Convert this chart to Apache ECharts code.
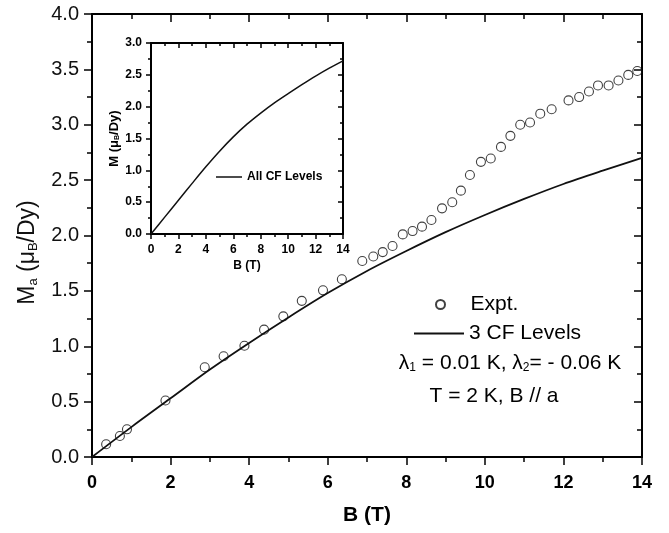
<!DOCTYPE html>
<html>
<head>
<meta charset="utf-8">
<script src="https://cdn.jsdelivr.net/npm/echarts@6/dist/echarts.min.js"></script>
<style>html,body{margin:0;padding:0;background:#fff}#c{width:669px;height:533px}</style>
</head>
<body>
<div id="c"></div>
<script>
// ---- data ----
var exptB = [0.36, 0.71, 0.89, 1.87, 2.87, 3.35, 3.88, 4.38, 4.87, 5.34, 5.88, 6.36, 6.88, 7.16, 7.40, 7.65, 7.91, 8.16, 8.40, 8.64, 8.91, 9.17, 9.39, 9.62, 9.90, 10.15, 10.41, 10.65, 10.90, 11.15, 11.41, 11.70, 12.13, 12.40, 12.65, 12.88, 13.15, 13.40, 13.65, 13.88];
var exptM = [0.115, 0.19, 0.25, 0.51, 0.81, 0.91, 1.005, 1.15, 1.27, 1.41, 1.505, 1.605, 1.77, 1.81, 1.85, 1.905, 2.01, 2.04, 2.08, 2.14, 2.245, 2.30, 2.405, 2.546, 2.665, 2.695, 2.80, 2.90, 3.00, 3.02, 3.10, 3.14, 3.22, 3.25, 3.30, 3.355, 3.355, 3.40, 3.45, 3.485];
var fitB = [0, 1, 2, 3, 4, 5, 6, 7, 8, 9, 10, 11, 12, 13, 14];
var fitM = [0, 0.27, 0.53, 0.79, 1.03, 1.26, 1.48, 1.68, 1.86, 2.03, 2.185, 2.33, 2.465, 2.585, 2.70];
var insetB = [0, 1, 2, 3, 4, 5, 6, 7, 8, 9, 10, 11, 12, 13, 14];
var insetM = [0, 0.265, 0.53, 0.795, 1.055, 1.30, 1.525, 1.725, 1.90, 2.06, 2.205, 2.345, 2.48, 2.605, 2.72];
var mainXTicks = {min: 0, max: 14, interval: 2};
var mainYTicks = {min: 0, max: 4, interval: 0.5};
var insetXTicks = {min: 0, max: 14, interval: 2};
var insetYTicks = {min: 0, max: 3, interval: 0.5};
var names = {expt: 'Expt.', fit: '3 CF Levels', inset: 'All CF Levels'};

var FF = '"Liberation Sans", Arial, Helvetica, sans-serif';
function zip(a, b) { return a.map(function (v, i) { return [v, b[i]]; }); }

function mkAxis(grid, pos, ticks, opts) {
  var inside = (pos === 'top' || pos === 'right');
  return {
    type: 'value', gridIndex: grid, position: pos,
    min: ticks.min, max: ticks.max, interval: ticks.interval,
    axisLine: {show: true, onZero: false, lineStyle: {color: '#000', width: 2}},
    axisTick: {show: true, inside: inside, length: opts.tick, lineStyle: {color: '#000', width: 1.5}},
    minorTick: {show: true, splitNumber: 2, length: opts.minor, lineStyle: {color: '#000', width: 1.5}},
    splitLine: {show: false},
    minorSplitLine: {show: false},
    axisLabel: inside ? {show: false} : opts.label,
    name: inside ? '' : opts.name,
    nameLocation: 'middle',
    nameGap: opts.nameGap,
    nameRotate: opts.nameRotate,
    nameTextStyle: opts.nameStyle
  };
}

var mainXOpts = {tick: 8, minor: 5,
  label: {fontSize: 18, fontWeight: 'bold', fontFamily: FF, color: '#000', margin: 17},
  name: 'B (T)', nameGap: 48,
  nameStyle: {fontSize: 21, fontWeight: 'bold', fontFamily: FF, color: '#000'}};
var mainYOpts = {tick: 8, minor: 5,
  label: {fontSize: 20, fontFamily: FF, color: '#111', margin: 13, formatter: function (v) { return v.toFixed(1); }},
  name: '{n|M}{s|a}{n| (μ}{s|B}{n|/Dy)}', nameGap: 52, nameRotate: 90,
  nameStyle: {padding: [0, 34, 0, 0], rich: {
    n: {fontSize: 23, fontFamily: FF, color: '#111'},
    s: {fontSize: 13, fontFamily: FF, color: '#111', verticalAlign: 'bottom', padding: [11, 0, 0, 0]}}}};
var insetXOpts = {tick: 5, minor: 3,
  label: {fontSize: 12, fontWeight: 'bold', fontFamily: FF, color: '#000', margin: 10},
  name: 'B (T)', nameGap: 26,
  nameStyle: {fontSize: 12, fontWeight: 'bold', fontFamily: FF, color: '#000'}};
var insetYOpts = {tick: 5, minor: 3,
  label: {fontSize: 12, fontWeight: 'bold', fontFamily: FF, color: '#000', margin: 9, formatter: function (v) { return v.toFixed(1); }},
  name: '{n|M (μ}{s|B}{n|/Dy)}', nameGap: 30, nameRotate: 90,
  nameStyle: {rich: {
    n: {fontSize: 13, fontWeight: 'bold', fontFamily: FF, color: '#000'},
    s: {fontSize: 7, fontWeight: 'bold', fontFamily: FF, color: '#000', verticalAlign: 'bottom', padding: [6, 0, 0, 0]}}}};

var chart = echarts.init(document.getElementById('c'), null, {renderer: 'canvas'});
chart.setOption({
  backgroundColor: '#fff',
  animation: false,
  grid: [
    {left: 92, top: 14, width: 550, height: 443},
    {left: 151, top: 43, width: 192, height: 191}
  ],
  xAxis: [
    mkAxis(0, 'bottom', mainXTicks, mainXOpts),
    mkAxis(0, 'top', mainXTicks, mainXOpts),
    mkAxis(1, 'bottom', insetXTicks, insetXOpts),
    mkAxis(1, 'top', insetXTicks, insetXOpts)
  ],
  yAxis: [
    mkAxis(0, 'left', mainYTicks, mainYOpts),
    mkAxis(0, 'right', mainYTicks, mainYOpts),
    mkAxis(1, 'left', insetYTicks, insetYOpts),
    mkAxis(1, 'right', insetYTicks, insetYOpts)
  ],
  legend: [
    {data: [{name: names.expt, icon: 'circle'}], left: 435, top: 294, padding: 0,
     itemWidth: 50, itemHeight: 9,
     textStyle: {fontSize: 21, fontFamily: FF, color: '#000'}},
    {data: [{name: names.fit, icon: 'rect'}], left: 414, top: 323, padding: 0,
     itemWidth: 50, itemHeight: 1.8,
     textStyle: {fontSize: 21, fontFamily: FF, color: '#000'}},
    {data: [{name: names.inset, icon: 'rect'}], left: 216, top: 171, padding: 0,
     itemWidth: 26, itemHeight: 1.5,
     textStyle: {fontSize: 12, fontWeight: 'bold', fontFamily: FF, color: '#000'}}
  ],
  series: [
    {name: names.fit, type: 'line', xAxisIndex: 0, yAxisIndex: 0, data: zip(fitB, fitM),
     symbol: 'none', smooth: 0.3, lineStyle: {color: '#111', width: 1.8}, itemStyle: {color: '#111'}, z: 3},
    {name: names.expt, type: 'scatter', xAxisIndex: 0, yAxisIndex: 0, data: zip(exptB, exptM),
     symbol: 'circle', symbolSize: 9,
     itemStyle: {color: 'rgba(255,255,255,0)', borderColor: '#111', borderWidth: 1.1}, z: 4},
    {name: names.inset, type: 'line', xAxisIndex: 2, yAxisIndex: 2, data: zip(insetB, insetM),
     symbol: 'none', smooth: 0.3, lineStyle: {color: '#111', width: 1.5}, itemStyle: {color: '#111'}}
  ],
  graphic: [
    {type: 'text', x: 510, y: 363, style: {
      text: '{n|λ}{s|1}{n| = 0.01 K, λ}{s|2}{n|= - 0.06 K}', align: 'center', verticalAlign: 'middle',
      rich: {n: {fontSize: 21, fontFamily: FF, fill: '#000'},
             s: {fontSize: 12, fontFamily: FF, fill: '#000', verticalAlign: 'bottom', padding: [10, 0, 0, 0]}}}},
    {type: 'text', x: 494, y: 396, style: {
      text: 'T = 2 K, B // a', align: 'center', verticalAlign: 'middle',
      font: '21px ' + FF, fill: '#000'}}
  ]
});
</script>
</body>
</html>
